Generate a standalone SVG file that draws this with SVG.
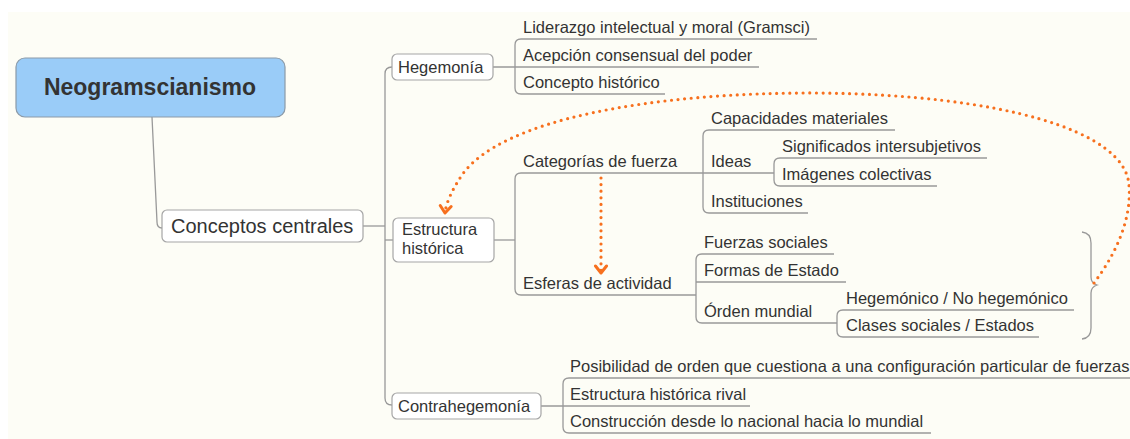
<svg xmlns="http://www.w3.org/2000/svg" width="1130" height="439" viewBox="0 0 1130 439">
<style>
text{font-family:"Liberation Sans",Arial,sans-serif;fill:#333;}
.leaf{font-size:16.5px;}
.box{fill:#fff;stroke:#a6a6a6;stroke-width:1.2;}
.ln{fill:none;stroke:#999;stroke-width:1.3;}
.rel{fill:none;stroke:#F7701E;stroke-width:3.2;stroke-dasharray:0 6.6;stroke-linecap:round;}
</style>
<defs>
<marker id="arr" markerUnits="userSpaceOnUse" viewBox="-10 -8 12 16" markerWidth="12" markerHeight="16" refX="0" refY="0" orient="auto">
<path d="M-7,-5.5 L0,0 L-7,5.5" fill="none" stroke="#F7701E" stroke-width="3" stroke-linejoin="round" stroke-linecap="round"/>
</marker>
</defs>
<rect x="0" y="0" width="1130" height="439" fill="#fff"/>
<rect x="8" y="12" width="1122" height="427" fill="#FDFDF6"/>

<g id="connectors">
<path class="ln" d="M152,117 L157,222 Q157,228 162,228"/>
<path class="ln" d="M363,226 L385,226"/>
<path class="ln" d="M392,67 Q385,67 385,74 L385,398 Q385,405 392,405"/>
<path class="ln" d="M385,240 L393,240"/>
<!-- Hegemonia -->
<path class="ln" d="M493,67 L759,67"/>
<path class="ln" d="M817,39 L521,39 Q515,39 515,45 L515,88 Q515,94 521,94 L665,94"/>
<!-- Estructura -->
<path class="ln" d="M494,240 L515,240"/>
<path class="ln" d="M703,173 L521,173 Q515,173 515,179 L515,289 Q515,295 521,295 L696,295"/>
<path class="ln" d="M895,130 L709,130 Q703,130 703,136 L703,207 Q703,213 709,213 L808,213"/>
<path class="ln" d="M703,173 L774,173"/>
<path class="ln" d="M987,158 L780,158 Q774,158 774,164 L774,180 Q774,186 780,186 L937,186"/>
<path class="ln" d="M834,254 L702,254 Q696,254 696,260 L696,317 Q696,323 702,323 L837,323"/>
<path class="ln" d="M696,282 L846,282"/>
<path class="ln" d="M1074,310 L843,310 Q837,310 837,316 L837,331 Q837,337 843,337 L1039,337"/>
<!-- Contrahegemonia -->
<path class="ln" d="M541,406 L750,406"/>
<path class="ln" d="M1135,378 L569,378 Q563,378 563,384 L563,427 Q563,433 569,433 L931,433"/>
<!-- brace -->
<path class="ln" d="M1082,232 Q1091,233 1091,243 L1091,277 Q1091,283 1097,285 Q1091,287 1091,293 L1091,328 Q1091,338 1082,339"/>
<!-- relationships -->
<path class="rel" d="M1094,283 C1115,255 1132,220 1129,185 C1125,130 1000,95 820,93 C650,92 500,120 462,175 C452,190 446,203 445,213" marker-end="url(#arr)"/>
<path class="rel" d="M601,178 L601,273" marker-end="url(#arr)"/>
</g>

<g id="root">
<rect x="16" y="58" width="269" height="59" rx="9" fill="#9ACCF8" stroke="#8b9aa8" stroke-width="1.2"/>
<text x="150" y="95" font-size="23" font-weight="bold" text-anchor="middle">Neogramscianismo</text>
</g>
<g id="conceptos">
<rect class="box" x="162" y="210" width="201" height="32" rx="5"/>
<text x="171" y="233" font-size="20">Conceptos centrales</text>
</g>
<g id="hegemonia">
<rect class="box" x="392" y="54" width="101" height="26" rx="5"/>
<text class="leaf" x="398" y="73">Hegemonía</text>
</g>
<g id="heg-1"><text class="leaf" x="523" y="33">Liderazgo intelectual y moral (Gramsci)</text></g>
<g id="heg-2"><text class="leaf" x="523" y="61">Acepción consensual del poder</text></g>
<g id="heg-3"><text class="leaf" x="523" y="88">Concepto histórico</text></g>

<g id="estructura">
<rect class="box" x="393" y="218" width="101" height="44" rx="5"/>
<text class="leaf" x="402" y="235">Estructura</text>
<text class="leaf" x="402" y="254">histórica</text>
</g>
<g id="categorias"><text class="leaf" x="523" y="167">Categorías de fuerza</text></g>
<g id="capacidades"><text class="leaf" x="711" y="124">Capacidades materiales</text></g>
<g id="ideas"><text class="leaf" x="711" y="167">Ideas</text></g>
<g id="significados"><text class="leaf" x="782" y="152">Significados intersubjetivos</text></g>
<g id="imagenes"><text class="leaf" x="782" y="180">Imágenes colectivas</text></g>
<g id="instituciones"><text class="leaf" x="711" y="207">Instituciones</text></g>
<g id="esferas"><text class="leaf" x="523" y="289">Esferas de actividad</text></g>
<g id="fuerzas"><text class="leaf" x="704" y="248">Fuerzas sociales</text></g>
<g id="formas"><text class="leaf" x="704" y="276">Formas de Estado</text></g>
<g id="orden"><text class="leaf" x="704" y="317">Órden mundial</text></g>
<g id="hegemonico"><text class="leaf" x="846" y="304">Hegemónico / No hegemónico</text></g>
<g id="clases"><text class="leaf" x="846" y="331">Clases sociales / Estados</text></g>

<g id="contrahegemonia">
<rect class="box" x="392" y="393" width="149" height="26" rx="5"/>
<text class="leaf" x="398" y="412">Contrahegemonía</text>
</g>
<g id="posibilidad"><text class="leaf" x="570" y="372">Posibilidad de orden que cuestiona a una configuración particular de fuerzas</text></g>
<g id="rival"><text class="leaf" x="570" y="400">Estructura histórica rival</text></g>
<g id="construccion"><text class="leaf" x="570" y="427">Construcción desde lo nacional hacia lo mundial</text></g>
</svg>
